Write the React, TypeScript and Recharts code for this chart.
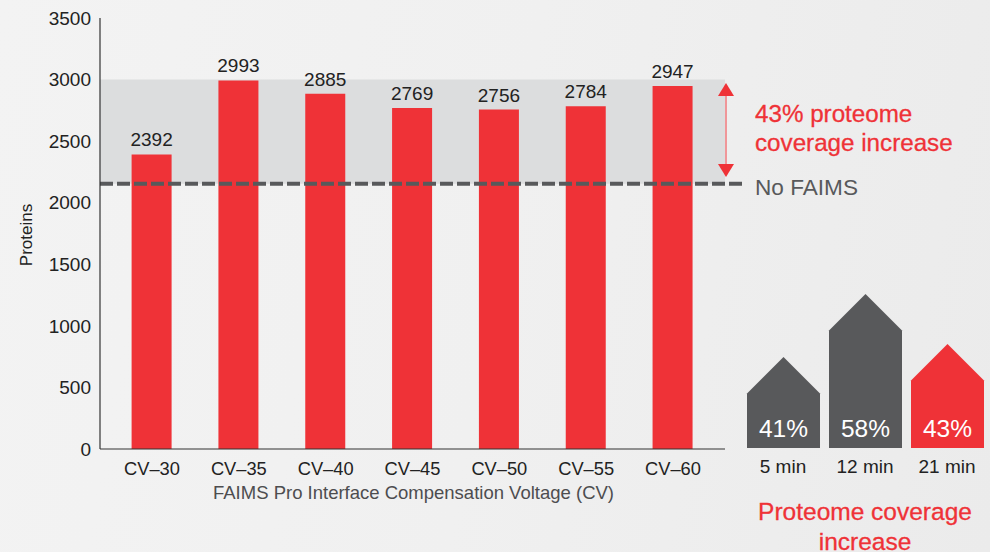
import { BarChart, Bar, XAxis, YAxis, LabelList, ReferenceArea, ReferenceLine, Cell } from 'recharts'

const voltages = ['CV–30', 'CV–35', 'CV–40', 'CV–45', 'CV–50', 'CV–55', 'CV–60']
const proteins = [2392, 2993, 2885, 2769, 2756, 2784, 2947]
const yTicks = [0, 500, 1000, 1500, 2000, 2500, 3000, 3500]
const noFaims = 2153
const bandTop = 3000

const gradients = ['5 min', '12 min', '21 min']
const coverage = [41, 58, 43]
// drawn height of each house, not proportional to the percentage in the original
const houseHeights = [91, 154, 104]
const houseColors = ['#58595b', '#58595b', '#ef3237']

const RED = '#ef3237'
const FONT = '"Liberation Sans", Arial, sans-serif'

const barData = voltages.map((cv, i) => ({ cv, proteins: proteins[i] }))
const houseData = gradients.map((g, i) => ({ g, height: houseHeights[i], coverage: coverage[i] }))

function House(props: any) {
  const { x, y, width, height, fill } = props
  const s = y + width / 2
  const d = `M${x},${y + height} L${x},${s} L${x + width / 2},${y} L${x + width},${s} L${x + width},${y + height} Z`
  return <path d={d} fill={fill} />
}

function HouseLabel(props: any) {
  const { x, y, width, height, value } = props
  return (
    <text x={x + width / 2} y={y + height - 11} textAnchor="middle" fill="#fff" fontSize={24.5} fontFamily={FONT}>
      {value}%
    </text>
  )
}

const redText = { position: 'absolute', color: RED, fontFamily: FONT, whiteSpace: 'nowrap', WebkitTextStroke: '0.3px ' + RED } as const

export default function App() {
  return (
    <div
      style={{
        position: 'absolute',
        left: 0,
        top: 0,
        width: 990,
        height: 552,
        overflow: 'hidden',
        background: 'linear-gradient(100deg, #f3f3f3 0%, #f0f0f0 50%, #ebebeb 100%)',
      }}
    >
      {/* grey band sits in its own chart underneath, the main x axis has padding and would inset it */}
      <div style={{ position: 'absolute', left: 0, top: 0 }}>
        <BarChart width={742} height={510} data={barData} margin={{ top: 18, right: 17, bottom: 61, left: 100 }}>
          <XAxis dataKey="cv" hide />
          <YAxis domain={[0, 3500]} hide />
          <ReferenceArea y1={noFaims} y2={bandTop} fill="#dcddde" fillOpacity={1} stroke="none" />
          <Bar dataKey="proteins" fillOpacity={0} isAnimationActive={false} />
        </BarChart>
      </div>

      <div style={{ position: 'absolute', left: 0, top: 0 }}>
        <BarChart
          width={742}
          height={510}
          data={barData}
          margin={{ top: 18, right: 17, bottom: 11, left: 0 }}
          barSize={40}
        >
          <XAxis
            dataKey="cv"
            height={50}
            padding={{ left: 8.6, right: 8.6 }}
            tickLine={false}
            axisLine={{ stroke: '#333', strokeWidth: 1.2 }}
            tick={{ fill: '#222', fontSize: 18.3, fontFamily: FONT }}
            tickMargin={7}
            interval={0}
            label={{
              value: 'FAIMS Pro Interface Compensation Voltage (CV)',
              position: 'insideBottom',
              offset: 0,
              dx: 1,
              fill: '#4d4d4f',
              fontSize: 18.5,
              fontFamily: FONT,
            }}
          />
          <XAxis xAxisId="span" type="number" domain={[0, 625]} hide />
          <YAxis
            domain={[0, 3500]}
            ticks={yTicks}
            width={100}
            tickLine={false}
            axisLine={{ stroke: '#333', strokeWidth: 1.2 }}
            tick={{ fill: '#222', fontSize: 19, fontFamily: FONT }}
            tickMargin={3}
          />
          <Bar dataKey="proteins" fill={RED} isAnimationActive={false}>
            <LabelList dataKey="proteins" position="top" offset={8} fill="#222" fontSize={19} fontFamily={FONT} />
          </Bar>
          <ReferenceLine
            xAxisId="span"
            segment={[
              { x: 0, y: noFaims },
              { x: 642, y: noFaims },
            ]}
            ifOverflow="visible"
            stroke="#58595b"
            strokeWidth={4}
            strokeDasharray="13 4"
          />
        </BarChart>
      </div>

      <div
        style={{
          position: 'absolute',
          left: 27,
          top: 235,
          transform: 'translate(-50%, -50%) rotate(-90deg)',
          fontFamily: FONT,
          fontSize: 17,
          color: '#222',
        }}
      >
        Proteins
      </div>

      {/* double arrow between the no FAIMS line and the top of the band */}
      <svg width={990} height={552} style={{ position: 'absolute', left: 0, top: 0 }}>
        <line x1={726} y1={90} x2={726} y2={170} stroke="#f0787c" strokeWidth={1.5} />
        <polygon points="726,83 718,96 734,96" fill={RED} />
        <polygon points="726,177 718,164 734,164" fill={RED} />
      </svg>

      <div style={{ ...redText, left: 755, top: 99, fontSize: 24.2, lineHeight: '29px' }}>
        43% proteome
        <br />
        coverage increase
      </div>
      <div
        style={{
          position: 'absolute',
          left: 755,
          top: 175,
          fontSize: 22.6,
          fontFamily: FONT,
          color: '#58595b',
          whiteSpace: 'nowrap',
        }}
      >
        No FAIMS
      </div>

      <div style={{ position: 'absolute', left: 742, top: 280 }}>
        <BarChart
          width={246}
          height={200}
          data={houseData}
          margin={{ top: 0, right: 0, bottom: 0, left: 0 }}
          barSize={73}
        >
          <XAxis
            dataKey="g"
            height={32}
            axisLine={false}
            tickLine={false}
            interval={0}
            tick={{ fill: '#222', fontSize: 19, fontFamily: FONT }}
            tickMargin={6}
          />
          <YAxis domain={[0, 168]} hide />
          <Bar dataKey="height" isAnimationActive={false} shape={<House />}>
            {houseData.map((d, i) => (
              <Cell key={d.g} fill={houseColors[i]} />
            ))}
            <LabelList dataKey="coverage" content={<HouseLabel />} />
          </Bar>
        </BarChart>
      </div>

      <div
        style={{
          ...redText,
          left: 742,
          width: 246,
          top: 497,
          fontSize: 24.5,
          lineHeight: '30px',
          textAlign: 'center',
        }}
      >
        Proteome coverage
        <br />
        increase
      </div>
    </div>
  )
}
